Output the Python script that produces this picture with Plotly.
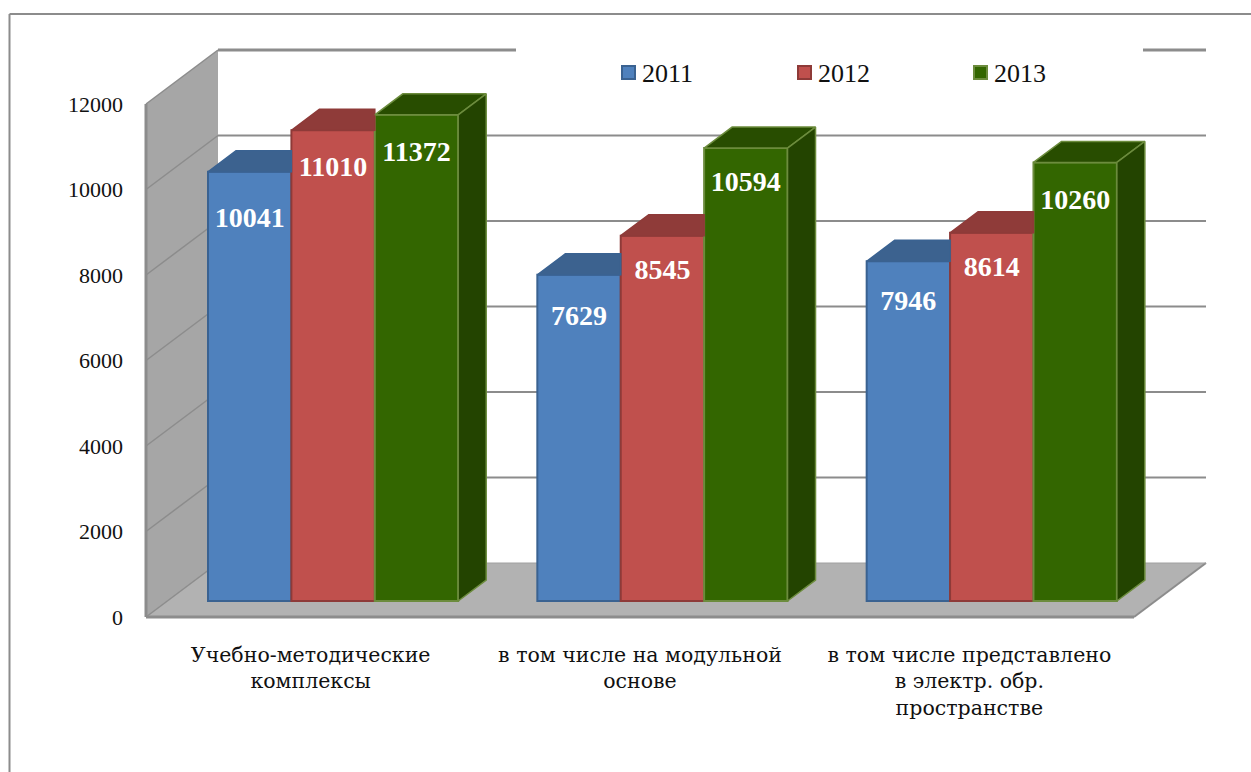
import plotly.graph_objects as go

# ---- data ----
CATEGORIES = ["Учебно-методические<br>комплексы",
              "в том числе на модульной<br>основе",
              "в том числе представлено<br>в электр. обр.<br>пространстве"]
YEARS = ["2011", "2012", "2013"]
V2011 = [10041, 7629, 7946]
V2012 = [11010, 8545, 8614]
V2013 = [11372, 10594, 10260]
Y_TICKS = [0, 2000, 4000, 6000, 8000, 10000, 12000]

# ---- geometry (page pixels) ----
W, H = 1251, 772
PL, PR, PT, PB = 146, 1206, 50, 617      # chart box: front-left corner, back-right corner
PAD = 6                                  # room round the box so thick edges are not clipped
Y_PX_PER_UNIT = 513 / 12000              # 0 at y=617, 12000 at y=104
CAT_PX = 988 / 3                         # width of a category
BAR_PX = 83.4
FIRST_BAR_PX = 208
BASE_PX = 16                             # bars stand 16px above the front edge
DEPTH_WALL = (72, 54)
DEPTH_BAR = (28, 21)
FONT = "Liberation Serif"
CAT_FONT = "DejaVu Serif"

FRONT = ["#4f81bd", "#c0504d", "#336600"]
EDGE = ["#3a6291", "#8e3a38", "#6c8c3d"]
TOP = ["#3c628f", "#8f3b39", "#284d00"]
SIDE = ["#2f4e73", "#733030", "#234400"]
LEGEND_X = [622, 798, 974]
# distance (px) from bar top to centre of its value label
LABEL_DROP = [[48, 43, 42], [39, 36, 36], [39, 36, 40]]

XMIN = -0.5
XMAX = XMIN + (PR - PL) / CAT_PX
YMAX = (PB - PT) / Y_PX_PER_UNIT
GRID = "#8c8c8c"


def dx(px):
    return px / CAT_PX


def dy(px):
    return px / Y_PX_PER_UNIT


def xd(px):
    return XMIN + (px - PL) / CAT_PX


def poly(points):
    return "M" + " L".join(f"{a},{b}" for a, b in points) + " Z"


def seg(x0, y0, x1, y1, width=2, color=GRID):
    return dict(type="line", xref="x", yref="y", x0=x0, y0=y0, x1=x1, y1=y1,
                layer="below", line=dict(color=color, width=width))


wx, wy = dx(DEPTH_WALL[0]), dy(DEPTH_WALL[1])
bx, by = dx(DEPTH_BAR[0]), dy(DEPTH_BAR[1])
x_end = XMIN + 3
shapes = [
    # left wall and floor
    dict(type="path", xref="x", yref="y", layer="below", line=dict(width=0), fillcolor="#a6a6a6",
         path=poly([(XMIN, 0), (XMIN + wx, wy), (XMIN + wx, 12000 + wy), (XMIN, 12000)])),
    dict(type="path", xref="x", yref="y", layer="below", line=dict(width=0), fillcolor="#b2b2b2",
         path=poly([(XMIN, 0), (XMIN + wx, wy), (x_end + wx, wy), (x_end, 0)])),
]
for t in Y_TICKS:
    shapes.append(seg(XMIN, t, XMIN + wx, t + wy, width=1.5))
    if t == 12000:
        shapes.append(seg(XMIN + wx, t + wy, xd(516), t + wy, width=3))
        shapes.append(seg(xd(1143), t + wy, XMAX, t + wy, width=3))
    elif t > 0:
        shapes.append(seg(XMIN + wx, t + wy, XMAX, t + wy))
shapes += [
    seg(XMIN, 0, XMIN, 12000, width=3),
    seg(XMIN, 0, x_end, 0, width=3),
    seg(x_end, 0, x_end + wx, wy, width=2),
    seg(XMIN + wx, wy, XMAX, wy, width=1, color="#a0a0a0"),
]

BOX_L, BOX_R, BOX_T, BOX_B = PL - PAD, PR + PAD, PT - PAD, PB + PAD


def paper(px, py):
    return (px - BOX_L) / (BOX_R - BOX_L), (BOX_B - py) / (BOX_B - BOX_T)


# outer frame, runs off the page on the right and at the bottom
for a, b in [((9.5, 14), (W, 14)), ((9.5, 14), (9.5, H))]:
    x0, y0 = paper(*a)
    x1, y1 = paper(*b)
    shapes.append(dict(type="line", xref="paper", yref="paper", x0=x0, y0=y0, x1=x1, y1=y1,
                       line=dict(color=GRID, width=2)))

fig = go.Figure()
series = [V2011, V2012, V2013]
base = dy(BASE_PX)
xs = [0, 1, 2]
bar_w = dx(BAR_PX)
first = xd(FIRST_BAR_PX)     # left of first bar, relative to category 0

for s, vals in enumerate(series):
    offset = first + s * bar_w
    fig.add_trace(go.Bar(x=xs, y=vals, base=base, width=bar_w, offset=offset, name=YEARS[s],
                         marker=dict(color=FRONT[s], line=dict(color=EDGE[s], width=2)),
                         showlegend=False))

for s, vals in enumerate(series):
    offset = first + s * bar_w
    for c, v in zip(xs, vals):
        left, right = c + offset, c + offset + bar_w
        top = base + v
        last = s == len(series) - 1
        tx = [left, left + bx, right + bx if last else right, right, left]
        ty = [top, top + by, top + by, top, top]
        fig.add_trace(go.Scatter(x=tx, y=ty, mode="lines", fill="toself", fillcolor=TOP[s],
                                 line=dict(color=EDGE[s], width=1.5), showlegend=False, hoverinfo="skip"))
        if last:
            sx = [right, right + bx, right + bx, right, right]
            sy = [top, top + by, base + by, base, top]
            fig.add_trace(go.Scatter(x=sx, y=sy, mode="lines", fill="toself", fillcolor=SIDE[s],
                                     line=dict(color=EDGE[s], width=1.5), showlegend=False, hoverinfo="skip"))

for s, vals in enumerate(series):
    offset = first + s * bar_w
    fig.add_trace(go.Scatter(
        x=[c + offset + bar_w / 2 for c in xs],
        y=[base + v - dy(d) for v, d in zip(vals, LABEL_DROP[s])],
        text=[str(v) for v in vals], mode="text", showlegend=False, hoverinfo="skip",
        textfont=dict(family=FONT, size=28, color="white", weight="bold")))

annotations = []
for s, name in enumerate(YEARS):
    x0, y0 = paper(LEGEND_X[s], 66)
    x1, y1 = paper(LEGEND_X[s] + 13, 79)
    shapes.append(dict(type="rect", xref="paper", yref="paper", x0=x0, y0=y0, x1=x1, y1=y1,
                       fillcolor=FRONT[s], line=dict(color=EDGE[s], width=2)))
    ax, ay = paper(LEGEND_X[s] + 18, 73)
    annotations.append(dict(xref="paper", yref="paper", x=ax, y=ay, text=name, showarrow=False,
                            xanchor="left", yanchor="middle",
                            font=dict(family=FONT, size=26, color="#111111")))

fig.update_layout(
    width=W, height=H, barmode="overlay", showlegend=False,
    paper_bgcolor="white", plot_bgcolor="white",
    margin=dict(l=BOX_L, r=W - BOX_R, t=BOX_T, b=H - BOX_B, autoexpand=False),
    shapes=shapes, annotations=annotations,
    xaxis=dict(range=[xd(BOX_L), xd(BOX_R)], tickvals=xs, ticktext=CATEGORIES, ticks="", showgrid=False,
               showline=False, zeroline=False, ticklabelstandoff=17, tickangle=0,
               tickfont=dict(family=CAT_FONT, size=20.5, color="#111111")),
    yaxis=dict(range=[-dy(PAD), YMAX + dy(PAD)], tickvals=Y_TICKS, ticktext=[str(t) for t in Y_TICKS], ticks="",
               showgrid=False, showline=False, zeroline=False, ticklabelstandoff=16,
               tickfont=dict(family=FONT, size=22, color="#111111")),
)

fig.write_html("out.html", config=dict(displayModeBar=False),
               post_script="document.body.style.margin='0';document.body.style.overflow='hidden';")
